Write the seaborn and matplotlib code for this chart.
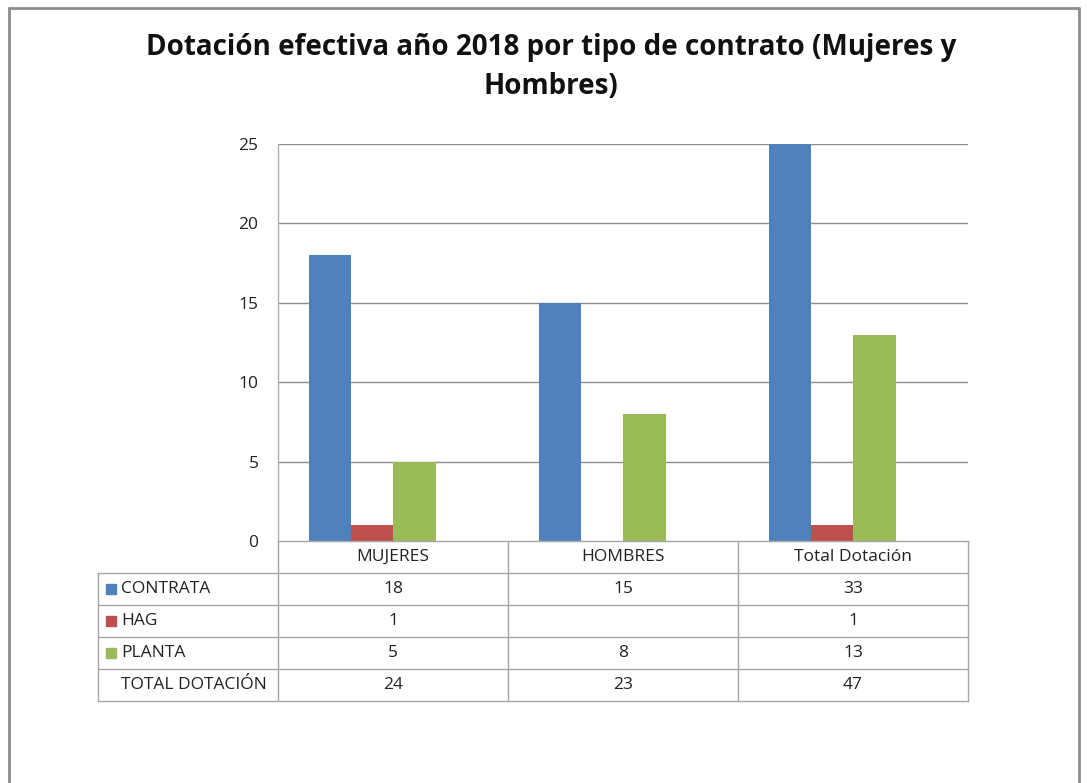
import matplotlib.pyplot as plt
import numpy as np
import pandas as pd
import seaborn as sns

categories = ["MUJERES", "HOMBRES", "Total Dotación"]
series = ["CONTRATA", "HAG", "PLANTA"]
contrata = [18, 15, 33]
hag = [1, None, 1]
planta = [5, 8, 13]
total_dotacion = [24, 23, 47]
colors = ["#4F81BD", "#C0504D", "#9BBB59"]
yticks = [0, 5, 10, 15, 20, 25]

W, H = 1087, 783
FS = 12.5


def fx(px):
    return px / W


def fy(py):
    return 1 - py / H


rows = []
for name, vals in zip(series, [contrata, hag, planta]):
    for cat, v in zip(categories, vals):
        rows.append({"cat": cat, "serie": name, "valor": np.nan if v is None else v})
df = pd.DataFrame(rows)

sns.set_theme(style="white")
plt.rcParams["font.family"] = ["Open Sans", "DejaVu Sans"]

fig = plt.figure(figsize=(W / 100, H / 100), dpi=100)
ax = fig.add_axes([fx(278), fy(541), fx(968) - fx(278), fy(144) - fy(541)])

sns.barplot(
    data=df, x="cat", y="valor", hue="serie",
    order=categories, hue_order=series, palette=colors,
    width=0.55, saturation=1, legend=False, ax=ax, zorder=3,
)
for p in ax.patches:
    p.set_edgecolor("none")

ax.set_ylim(0, 25)
# bars in the original sit a little left of the column centres
ax.set_xlim(-0.41, 2.59)
ax.set_yticks(yticks)
ax.set_yticklabels([str(t) for t in yticks], fontsize=FS, color="#222222")
ax.tick_params(axis="y", length=0, pad=14)
ax.set_xticks([])
ax.set_xlabel("")
ax.set_ylabel("")
for t in yticks[1:]:
    ax.axhline(t, color="#8c8c8c", lw=1, zorder=1)
for s in ["top", "right", "bottom"]:
    ax.spines[s].set_visible(False)
ax.spines["left"].set_color("#b0b0b0")
ax.spines["left"].set_linewidth(1)

# Data table under the chart
line_c = "#a6a6a6"
row_y = [541, 573, 605, 637, 669, 701]
col_x = [278, 508, 738, 968]
left_x = 98

fig.add_artist(plt.Line2D([fx(278), fx(968)], [fy(541), fy(541)], color=line_c, lw=1))
for y in row_y[1:]:
    fig.add_artist(plt.Line2D([fx(left_x), fx(968)], [fy(y), fy(y)], color=line_c, lw=1))
fig.add_artist(plt.Line2D([fx(left_x), fx(left_x)], [fy(573), fy(701)], color=line_c, lw=1))
for x in col_x:
    fig.add_artist(plt.Line2D([fx(x), fx(x)], [fy(541), fy(701)], color=line_c, lw=1))

for i, cat in enumerate(categories):
    cx = (col_x[i] + col_x[i + 1]) / 2
    fig.text(fx(cx), fy((row_y[0] + row_y[1]) / 2), cat, ha="center", va="center",
             fontsize=FS, color="#222222")

table_rows = [("CONTRATA", contrata, colors[0]), ("HAG", hag, colors[1]),
              ("PLANTA", planta, colors[2]), ("TOTAL DOTACIÓN", total_dotacion, None)]
for r, (label, vals, col) in enumerate(table_rows):
    cy = (row_y[r + 1] + row_y[r + 2]) / 2
    if col is not None:
        fig.add_artist(plt.Rectangle((fx(106), fy(cy + 5)), fx(10), fy(cy - 5) - fy(cy + 5),
                                     color=col, transform=fig.transFigure))
    fig.text(fx(121), fy(cy), label, ha="left", va="center", fontsize=FS, color="#222222")
    for i, v in enumerate(vals):
        if v is None:
            continue
        cx = (col_x[i] + col_x[i + 1]) / 2
        fig.text(fx(cx), fy(cy), str(v), ha="center", va="center", fontsize=FS, color="#222222")

fig.text(fx(551), fy(67), "Dotación efectiva año 2018 por tipo de contrato (Mujeres y\nHombres)",
         ha="center", va="center", fontsize=20, fontweight="bold", color="#111111",
         linespacing=1.45)

frame_c = "#8c8c8c"
fig.add_artist(plt.Line2D([fx(9), fx(1079)], [fy(8), fy(8)], color=frame_c, lw=2))
fig.add_artist(plt.Line2D([fx(9), fx(9)], [fy(8), 0], color=frame_c, lw=2))
fig.add_artist(plt.Line2D([fx(1079), fx(1079)], [fy(8), 0], color=frame_c, lw=2))

fig.savefig("out.png", dpi=100, facecolor="white")
